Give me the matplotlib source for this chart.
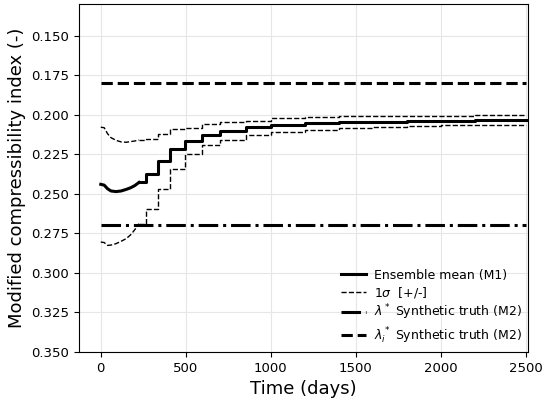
import matplotlib
matplotlib.use("Agg")
import matplotlib.pyplot as plt

# update times (days) and values
days = [0, 20, 40, 60, 90, 120, 150, 175, 200, 225, 265, 337, 410, 494,
        598, 700, 853, 1004, 1200, 1400, 1600, 1800, 2004, 2200, 2504]
ens_mean = [0.2440, 0.2445, 0.2468, 0.2482, 0.2486, 0.2482, 0.2472, 0.2462,
            0.2448, 0.2428, 0.2373, 0.2290, 0.2215, 0.2163, 0.2127, 0.2104,
            0.2078, 0.2062, 0.2053, 0.2047, 0.2043, 0.2040, 0.2038, 0.2036, 0.2036]
sigma_upper = [0.2079, 0.2082, 0.2120, 0.2145, 0.2162, 0.2172, 0.2174, 0.2170,
               0.2166, 0.2160, 0.2152, 0.2121, 0.2089, 0.2085, 0.2057, 0.2047,
               0.2037, 0.2020, 0.2016, 0.2011, 0.2008, 0.2006, 0.2005, 0.2004, 0.2004]
sigma_lower = [0.2805, 0.2808, 0.2826, 0.2824, 0.2815, 0.2800, 0.2783, 0.2760,
               0.2727, 0.2689, 0.2594, 0.2468, 0.2342, 0.2247, 0.2190, 0.2158,
               0.2127, 0.2110, 0.2095, 0.2083, 0.2075, 0.2070, 0.2068, 0.2067, 0.2067]
truth_lambda = 0.27
truth_lambda_i = 0.18

# early period is updated often -> drawn smooth, later updates drawn as steps
n_smooth = 10

fig, ax = plt.subplots(figsize=(5.45, 4), dpi=100)
fig.subplots_adjust(left=0.145, right=0.969, top=0.99, bottom=0.12)


def draw(values, label=None, **kw):
    ax.plot(days[:n_smooth], values[:n_smooth], color="black", **kw)
    ax.plot(days[n_smooth - 1:], values[n_smooth - 1:], color="black",
            drawstyle="steps-post", label=label, **kw)


draw(ens_mean, label="Ensemble mean (M1)", lw=2.2)
draw(sigma_upper, label=r"1$\sigma$  [+/-]", lw=1, ls="--")
draw(sigma_lower, lw=1, ls="--")
ax.plot([days[0], days[-1]], [truth_lambda] * 2, color="black", lw=2.2, ls="-.",
        label=r"$\lambda^*$ Synthetic truth (M2)")
ax.plot([days[0], days[-1]], [truth_lambda_i] * 2, color="black", lw=2.2, ls="--",
        label=r"$\lambda_i^*$ Synthetic truth (M2)")

ax.set_xlim(-128, 2515)
ax.set_ylim(0.35, 0.13)
ax.set_yticks([0.150, 0.175, 0.200, 0.225, 0.250, 0.275, 0.300, 0.325, 0.350])
ax.set_xticks([0, 500, 1000, 1500, 2000, 2500])
ax.grid(True, color="#e6e6e6", lw=0.8)
ax.tick_params(labelsize=9.5)
ax.set_xlabel("Time (days)", fontsize=13)
ax.set_ylabel("Modified compressibility index (-)", fontsize=13)
ax.legend(loc="lower right", frameon=False, fontsize=9, labelspacing=0.25,
          handlelength=2.0, handletextpad=0.6, borderaxespad=0.1)

fig.savefig("out.png", dpi=100)
